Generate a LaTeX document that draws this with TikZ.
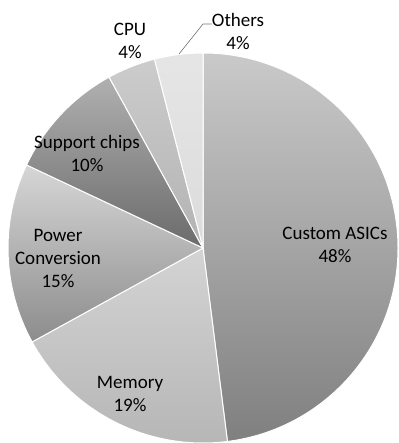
\documentclass[tikz,border=0pt]{standalone}
\usepackage{fontspec}
\setmainfont{Carlito}

\begin{document}
\begin{tikzpicture}[x=1pt,y=-1pt]
  \tikzstyle{slice}=[draw=white, line width=1pt]
  \tikzstyle{lbl}=[align=center, inner sep=0pt, font=\fontsize{19}{23}\selectfont]

  \useasboundingbox (0,0) rectangle (398,443);
  \coordinate (o) at (203,248);

  % slices, clockwise from the top
  \draw[slice, top color=black!21, bottom color=black!50] (o) -- ++(-90:195) arc (-90:82.8:195) -- cycle;
  \draw[slice, top color=black!17, bottom color=black!29] (o) -- ++(82.8:195) arc (82.8:151.2:195) -- cycle;
  \draw[slice, top color=black!16, bottom color=black!45] (o) -- ++(151.2:195) arc (151.2:205.2:195) -- cycle;
  \draw[slice, top color=black!31, bottom color=black!58] (o) -- ++(205.2:195) arc (205.2:241.2:195) -- cycle;
  \draw[slice, top color=black!20, bottom color=black!30] (o) -- ++(241.2:195) arc (241.2:255.6:195) -- cycle;
  \draw[slice, top color=black!10, bottom color=black!14] (o) -- ++(255.6:195) arc (255.6:270:195) -- cycle;

  \node[lbl] (asic) at (335,245) {Custom ASICs\\48\%};
  \node[lbl] (mem)  at (130,394) {Memory\\19\%};
  \node[lbl] (pwr)  at (58,258)  {Power\\Conversion\\15\%};
  \node[lbl] (sup)  at (87,153)  {Support chips\\10\%};
  \node[lbl] (cpu)  at (130,41)  {CPU\\4\%};
  \node[lbl] (oth)  at (238,31)  {Others\\4\%};

  % leader to the small slice
  \coordinate (oarc) at (179,54);
  \coordinate (obend) at (203,24);
  \draw[black!55, line width=0.6pt] (oarc) -- (obend) -- (obend -| oth.west);
\end{tikzpicture}
\end{document}
